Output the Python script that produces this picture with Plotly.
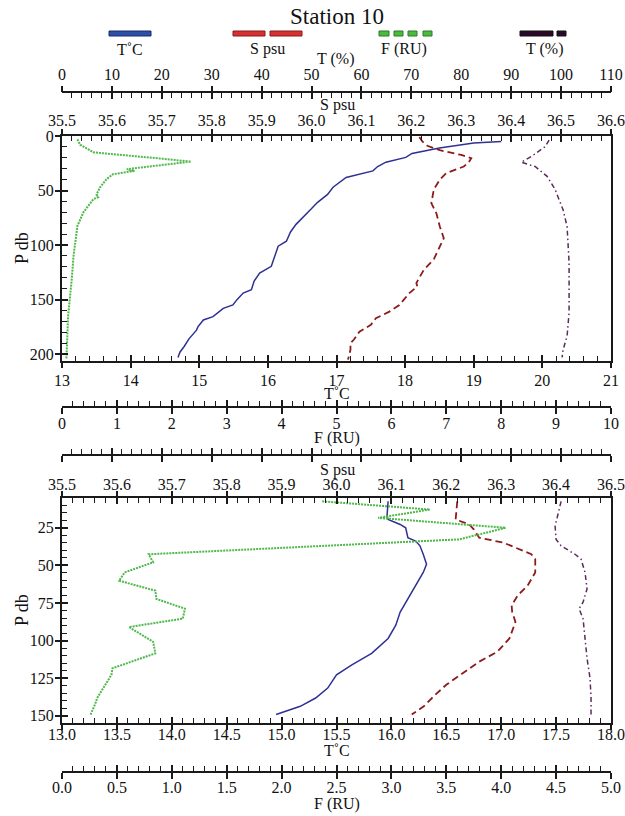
import plotly.graph_objects as go

# ---------------- data ----------------
# Upper panel
top_T_depth = [5, 6.5, 11, 13.5, 16, 19.6, 24, 28, 32, 38, 47, 53.5, 61, 67, 74, 81, 88, 96.5, 101, 110,
               119.5, 125.6, 133, 141, 144, 150, 154.8, 158, 165.6, 168.7, 175, 178, 186, 193, 198, 203]
top_T = [19.40, 19.00, 18.50, 18.30, 18.10, 18.01, 17.72, 17.60, 17.53, 17.14, 16.95, 16.87, 16.72, 16.63,
         16.52, 16.41, 16.33, 16.27, 16.15, 16.10, 16.05, 15.88, 15.80, 15.76, 15.64, 15.55, 15.49, 15.35,
         15.20, 15.06, 14.98, 14.96, 14.85, 14.78, 14.72, 14.69]

top_S_depth = [1, 5, 9, 13, 17.4, 20.4, 24, 28, 34, 40, 49, 61.6, 70.7, 83, 93.6, 101, 113, 122.6, 134.8,
               138, 144, 150, 155, 161, 167, 173, 179.4, 186.6, 190, 196, 205]
top_S = [36.216, 36.222, 36.232, 36.257, 36.300, 36.320, 36.315, 36.305, 36.270, 36.257, 36.245, 36.240,
         36.250, 36.257, 36.265, 36.257, 36.245, 36.225, 36.210, 36.212, 36.196, 36.185, 36.176, 36.156,
         36.129, 36.119, 36.096, 36.085, 36.078, 36.078, 36.073]

top_F_depth = [3, 8, 15, 17.5, 20.6, 23.5, 25.8, 28.9, 30.4, 32, 35, 39.6, 44.8, 47.3, 53.5, 56, 58, 63, 70,
               82.6, 95, 110, 130, 147, 165.6, 180, 196, 204]
top_F = [0.28, 0.33, 0.57, 1.18, 1.78, 2.35, 1.96, 1.48, 1.18, 1.32, 0.93, 0.81, 0.72, 0.69, 0.63, 0.66,
         0.57, 0.50, 0.39, 0.28, 0.25, 0.21, 0.18, 0.15, 0.11, 0.10, 0.085, 0.08]

top_Tp_depth = [3.7, 9.8, 18.9, 24, 28, 37, 49, 67.7, 83, 116, 162, 183.5, 196, 203]
top_Tp = [97.6, 96.8, 94.0, 92.0, 94.8, 97.2, 98.8, 100.4, 101.2, 101.6, 101.6, 101.2, 100.4, 100.2]

# Lower panel
bot_T_depth = [7.4, 17.3, 19.5, 22.8, 25, 31.6, 33.8, 37, 42.6, 49.2, 54.7, 63.5, 72.3, 81, 89.8, 98.6,
               108.5, 116.2, 122.8, 127.2, 131.6, 138.2, 143.7, 149.2]
bot_T = [15.97, 15.96, 15.97, 16.08, 16.13, 16.15, 16.22, 16.26, 16.29, 16.32, 16.29, 16.22, 16.15, 16.08,
         16.04, 15.97, 15.82, 15.64, 15.50, 15.46, 15.42, 15.31, 15.17, 14.95]

bot_S_depth = [7.4, 19.5, 22.8, 26, 31.6, 34.9, 42.6, 45.9, 54.7, 63.5, 70, 76.6, 81, 87.6, 98.6, 107.4,
               114, 121.7, 129.4, 136, 143.7, 149.2]
bot_S = [36.220, 36.217, 36.242, 36.250, 36.260, 36.304, 36.355, 36.362, 36.362, 36.348, 36.330, 36.319,
         36.320, 36.326, 36.315, 36.293, 36.260, 36.231, 36.200, 36.180, 36.159, 36.137]

bot_F_depth = [7.4, 12.9, 18.4, 25, 32.7, 37, 42.6, 48, 54.7, 60.2, 66.8, 72.3, 78.8, 85.4, 91, 100.8,
               108.5, 118.4, 122.8, 138.2, 142.6, 149.2]
bot_F = [2.37, 3.35, 2.88, 4.04, 3.62, 2.35, 0.79, 0.83, 0.57, 0.52, 0.85, 0.86, 1.12, 1.10, 0.61, 0.83,
         0.85, 0.46, 0.45, 0.32, 0.30, 0.26]

bot_Tp_depth = [7.4, 17.3, 23.9, 32.7, 37, 42.6, 45.9, 54.7, 65.7, 74.5, 78.8, 85.4, 98.6, 111.8, 125, 138, 149.2]
bot_Tp = [100.0, 99.2, 98.8, 99.0, 100.0, 102.8, 104.0, 104.8, 105.2, 104.4, 103.6, 104.4, 104.8, 105.2,
          105.8, 106.0, 106.0]

legend_labels = ["T˚C", "S psu", "F (RU)", "T (%)"]

# ---------------- geometry helpers ----------------
W, H = 625, 816
L, R = 62, 14
PW = W - L - R


def px(x):
    return (x - L) / PW


def py(y):
    return 1 - y / H


FONT = "Liberation Serif"
AX = "#1a1a1a"
EPS = 1e-6

top_dom = [py(360.7), py(136)]
bot_dom = [py(723.3), py(497.7)]


def xax(rng, tick0, dtick, mdtick, side, anchor, overlaying=None, position=None,
        labels=True, fmt=None, standoff=0, showline=True, twin=False):
    d = dict(range=[rng[0] - EPS, rng[1] + EPS], tick0=tick0, dtick=dtick, side=side,
             showgrid=False, zeroline=False, showline=showline and not twin,
             linecolor=AX, linewidth=2, ticks="outside" if twin else "inside",
             ticklen=6, tickwidth=1.5, tickcolor=AX, automargin=False,
             showticklabels=labels and not twin, fixedrange=True,
             tickfont=dict(family=FONT, size=16, color="#111"))
    if fmt:
        d["tickformat"] = fmt
    if standoff:
        d["ticklabelstandoff"] = standoff
    if not twin:
        d["minor"] = dict(tick0=tick0, dtick=mdtick, ticks="inside", ticklen=5,
                          tickwidth=1.3, tickcolor=AX)
    if position is not None:
        d["anchor"] = "free"
        d["position"] = position
    else:
        d["anchor"] = anchor
    if overlaying:
        d["overlaying"] = overlaying
    return d


fig = go.Figure()

# colours
BLUE = "#2e3192"
RED = "#8e1b1b"
GREEN = "#4fb84a"
PURPLE = "#5e2a5e"


def add(x, y, xa, ya, color, dash, width):
    fig.add_trace(go.Scatter(x=x, y=y, xaxis=xa, yaxis=ya, mode="lines",
                             line=dict(color=color, dash=dash, width=width),
                             showlegend=False, hoverinfo="skip"))


# upper panel traces
add(top_F, top_F_depth, "x4", "y", GREEN, "2px,1px", 2)
add(top_T, top_T_depth, "x", "y", BLUE, "solid", 1.5)
add(top_S, top_S_depth, "x2", "y", RED, "7px,4px", 1.8)
add(top_Tp, top_Tp_depth, "x3", "y", PURPLE, "5px,3px,1.5px,3px", 1.5)
# lower panel traces
add(bot_F, bot_F_depth, "x7", "y2", GREEN, "2px,1px", 2)
add(bot_T, bot_T_depth, "x5", "y2", BLUE, "solid", 1.5)
add(bot_S, bot_S_depth, "x6", "y2", RED, "7px,4px", 1.8)
add(bot_Tp, bot_Tp_depth, "x8", "y2", PURPLE, "5px,3px,1.5px,3px", 1.5)

# empty traces for twin (outer tick) axes
for xa, ya in [("x9", "y"), ("x10", "y"), ("x11", "y"), ("x12", "y"),
               ("x13", "y2"), ("x14", "y2"), ("x15", "y2"), ("x16", "y2"),
               ("x", "y3"), ("x5", "y4")]:
    fig.add_trace(go.Scatter(x=[None], y=[None], xaxis=xa, yaxis=ya, mode="lines",
                             showlegend=False, hoverinfo="skip"))

pos_Tp = py(92)
pos_Ftop = py(406.7)
pos_mys = py(455)
pos_Fbot = py(771.5)

layout_axes = dict(
    # upper panel
    xaxis=xax([13, 21], 13, 1, 0.2, "bottom", "y", standoff=4),
    xaxis2=xax([35.5, 36.6], 35.5, 0.1, 0.02, "top", "y", overlaying="x", fmt=".1f", standoff=2),
    xaxis3=xax([0, 110], 0, 10, 2, "top", None, overlaying="x", position=pos_Tp, standoff=5),
    xaxis4=xax([0, 10], 0, 1, 0.2, "bottom", None, overlaying="x", position=pos_Ftop, standoff=2),
    xaxis9=xax([13, 21], 13, 1, 0.2, "bottom", "y", overlaying="x", twin=True),
    xaxis10=xax([35.5, 36.6], 35.5, 0.1, 0.02, "top", "y", overlaying="x", twin=True),
    xaxis11=xax([0, 110], 0, 10, 2, "top", None, overlaying="x", position=pos_Tp, twin=True),
    xaxis12=xax([0, 10], 0, 1, 0.2, "bottom", None, overlaying="x", position=pos_Ftop, twin=True),
    # lower panel
    xaxis5=xax([13, 18], 13, 0.5, 0.1, "bottom", "y2", fmt=".1f", standoff=-5),
    xaxis6=xax([35.5, 36.5], 35.5, 0.1, 0.02, "top", "y2", overlaying="x5", fmt=".1f", standoff=-1),
    xaxis7=xax([0, 5], 0, 0.5, 0.1, "bottom", None, overlaying="x5", position=pos_Fbot, fmt=".1f", standoff=1),
    xaxis8=xax([0, 110], 0, 10, 2, "bottom", None, overlaying="x5", position=pos_mys, labels=False),
    xaxis13=xax([13, 18], 13, 0.5, 0.1, "bottom", "y2", overlaying="x5", twin=True),
    xaxis14=xax([35.5, 36.5], 35.5, 0.1, 0.02, "top", "y2", overlaying="x5", twin=True),
    xaxis15=xax([0, 5], 0, 0.5, 0.1, "bottom", None, overlaying="x5", position=pos_Fbot, twin=True),
    xaxis16=xax([0, 110], 0, 10, 2, "bottom", None, overlaying="x5", position=pos_mys, twin=True),
)


def yax(rng, dtick, mdtick, anchor, domain, overlaying=None, twin=False, standoff=0):
    d = dict(range=rng, tick0=0, dtick=dtick, domain=domain, anchor=anchor,
             showgrid=False, zeroline=False, showline=not twin, mirror=(not twin),
             linecolor=AX, linewidth=2, ticks="outside" if twin else "inside",
             ticklen=6, tickwidth=1.5, tickcolor=AX, automargin=False,
             showticklabels=not twin, fixedrange=True,
             tickfont=dict(family=FONT, size=16, color="#111"))
    if standoff:
        d["ticklabelstandoff"] = standoff
    if not twin:
        d["minor"] = dict(tick0=0, dtick=mdtick, ticks="inside", ticklen=5,
                          tickwidth=1.3, tickcolor=AX)
    if overlaying:
        d["overlaying"] = overlaying
    return d


layout_axes.update(
    yaxis=yax([206, 0], 50, 10, "x", top_dom, standoff=3),
    yaxis3=yax([206, 0], 50, 10, "x", top_dom, overlaying="y", twin=True),
    yaxis2=yax([155, 5], 25, 5, "x5", bot_dom, standoff=3),
    yaxis4=yax([155, 5], 25, 5, "x5", bot_dom, overlaying="y2", twin=True),
)

# ---------------- annotations (titles) ----------------
ann = []


def text(t, x, y, size=16, angle=0):
    ann.append(dict(text=t, x=px(x), y=py(y), xref="paper", yref="paper",
                    showarrow=False, xanchor="center", yanchor="middle", textangle=angle,
                    font=dict(family=FONT, size=size, color="#111")))


text("Station 10", 337, 16, size=23)
for lab, x in zip(legend_labels, [130, 267, 404, 544]):
    text(lab, x, 49)
text("T (%)", 335, 59)
text("S psu", 337, 105)
text("T˚C", 337, 393)
text("F (RU)", 337, 438)
text("S psu", 337, 470)
text("T˚C", 337, 750)
text("F (RU)", 337, 804)
text("P db", 22, 248, size=18, angle=-90)
text("P db", 22, 610, size=18, angle=-90)

# ---------------- legend keys (line samples) ----------------
shapes = []


def key(x0, x1, fill, border):
    shapes.append(dict(type="rect", xref="paper", yref="paper", x0=px(x0), x1=px(x1),
                       y0=py(36), y1=py(31), fillcolor=fill, line=dict(color=border, width=1)))


key(109, 151, "#2d4fa6", "#1b2d6b")
key(233, 265, "#d63030", "#8a1a1a")
key(270, 302, "#d63030", "#8a1a1a")
for a, b in [(379, 389), (394, 403), (408, 417), (423, 432)]:
    key(a, b, "#4cbb3c", "#2a7a2a")
key(520, 553, "#2a0a2a", "#111111")
key(557, 566, "#2a0a2a", "#111111")

fig.update_layout(
    width=W, height=H, autosize=False,
    margin=dict(l=L, r=R, t=0, b=0, pad=0),
    paper_bgcolor="white", plot_bgcolor="white",
    showlegend=False, annotations=ann, shapes=shapes,
    **layout_axes,
)

fig.write_html("out.html", config={"displayModeBar": False},
               post_script="document.body.style.margin='0px';document.body.style.overflow='hidden';")
